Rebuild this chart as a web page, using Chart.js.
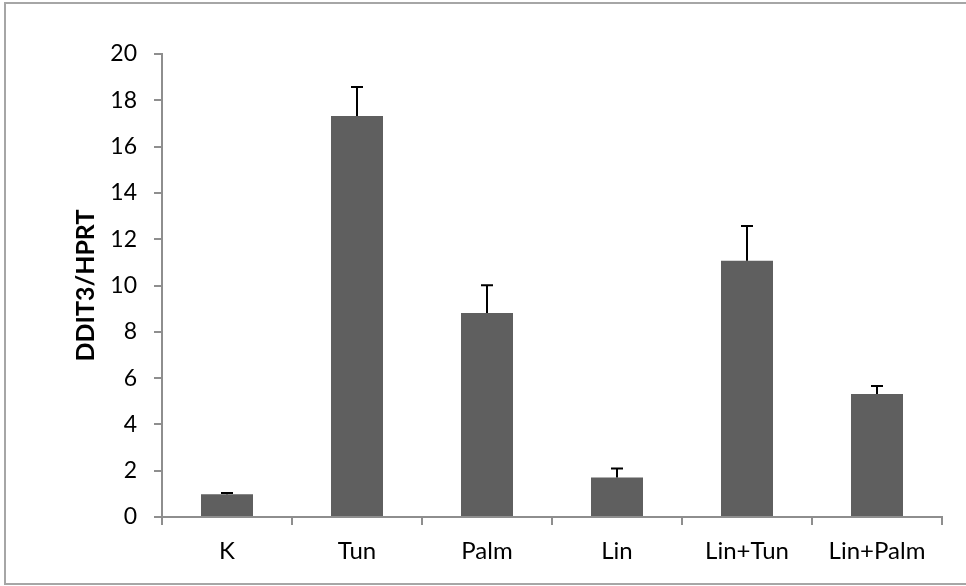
<!DOCTYPE html>
<html>
<head>
<meta charset="utf-8">
<script src="https://cdn.jsdelivr.net/npm/chart.js@4/dist/chart.umd.min.js"></script>
<style>
  html, body { margin: 0; padding: 0; background: #ffffff; }
  #wrap { position: relative; width: 966px; height: 586px; }
</style>
</head>
<body>
<div id="wrap"><canvas id="c" width="966" height="586"></canvas></div>
<script>
// Treatment groups and measured DDIT3 expression (relative to HPRT)
const categories = ['K', 'Tun', 'Palm', 'Lin', 'Lin+Tun', 'Lin+Palm'];
const means = [0.98, 17.32, 8.81, 1.71, 11.07, 5.31];
const errors = [0.06, 1.25, 1.20, 0.38, 1.50, 0.35];
const yTicks = [0, 2, 4, 6, 8, 10, 12, 14, 16, 18, 20];

const FONT = 'Lato, "Open Sans", "DejaVu Sans", sans-serif';
const AXIS_GRAY = '#8e8e8e';

// Upward error bars with a short cap on top of each bar
const errorBars = {
  id: 'errorBars',
  afterDatasetsDraw(chart) {
    const { ctx } = chart;
    const y = chart.scales.y;
    const meta = chart.getDatasetMeta(0);
    ctx.save();
    ctx.strokeStyle = '#000000';
    ctx.lineWidth = 2;
    meta.data.forEach((bar, i) => {
      const top = y.getPixelForValue(means[i]);
      const hi = y.getPixelForValue(means[i] + errors[i]);
      ctx.beginPath();
      ctx.moveTo(bar.x, top);
      ctx.lineTo(bar.x, hi);
      ctx.moveTo(bar.x - 6, hi);
      ctx.lineTo(bar.x + 6, hi);
      ctx.stroke();
    });
    ctx.restore();
  }
};

// Thin frame around the whole chart
const frame = {
  id: 'frame',
  beforeDraw(chart) {
    const { ctx } = chart;
    ctx.save();
    ctx.fillStyle = '#ffffff';
    ctx.fillRect(0, 0, chart.width, chart.height);
    ctx.strokeStyle = '#a6a6a6';
    ctx.lineWidth = 2;
    ctx.strokeRect(5, 3, 975, 581);
    ctx.restore();
  }
};

new Chart(document.getElementById('c'), {
  type: 'bar',
  data: {
    labels: categories,
    datasets: [{
      data: means,
      backgroundColor: '#5f5f5f',
      borderWidth: 0,
      barPercentage: 0.4,
      categoryPercentage: 1.0
    }]
  },
  plugins: [frame, errorBars],
  options: {
    responsive: false,
    animation: false,
    devicePixelRatio: 1,
    layout: { padding: { left: 0, top: 54, right: 24, bottom: 0 } },
    plugins: { legend: { display: false }, tooltip: { enabled: false } },
    scales: {
      x: {
        afterFit(scale) { scale.height = 69; },
        grid: {
          offset: true,
          drawOnChartArea: false,
          drawTicks: true,
          tickLength: 8,
          color: AXIS_GRAY,
          lineWidth: 2
        },
        border: { color: AXIS_GRAY, width: 2 },
        ticks: {
          color: '#000000',
          padding: 12,
          font: { family: FONT, size: 24 }
        }
      },
      y: {
        min: 0,
        max: 20,
        afterFit(scale) { scale.width = 162; },
        afterBuildTicks(scale) { scale.ticks = yTicks.map(v => ({ value: v })); },
        grid: {
          drawOnChartArea: false,
          drawTicks: true,
          tickLength: 8,
          color: AXIS_GRAY,
          lineWidth: 2
        },
        border: { color: AXIS_GRAY, width: 2 },
        ticks: {
          color: '#000000',
          padding: 17,
          font: { family: FONT, size: 23 }
        },
        title: {
          display: true,
          text: 'DDIT3/HPRT',
          color: '#000000',
          font: { family: FONT, size: 25, weight: 'bold' },
          padding: { top: 71, bottom: 0 }
        }
      }
    }
  }
});
</script>
</body>
</html>
